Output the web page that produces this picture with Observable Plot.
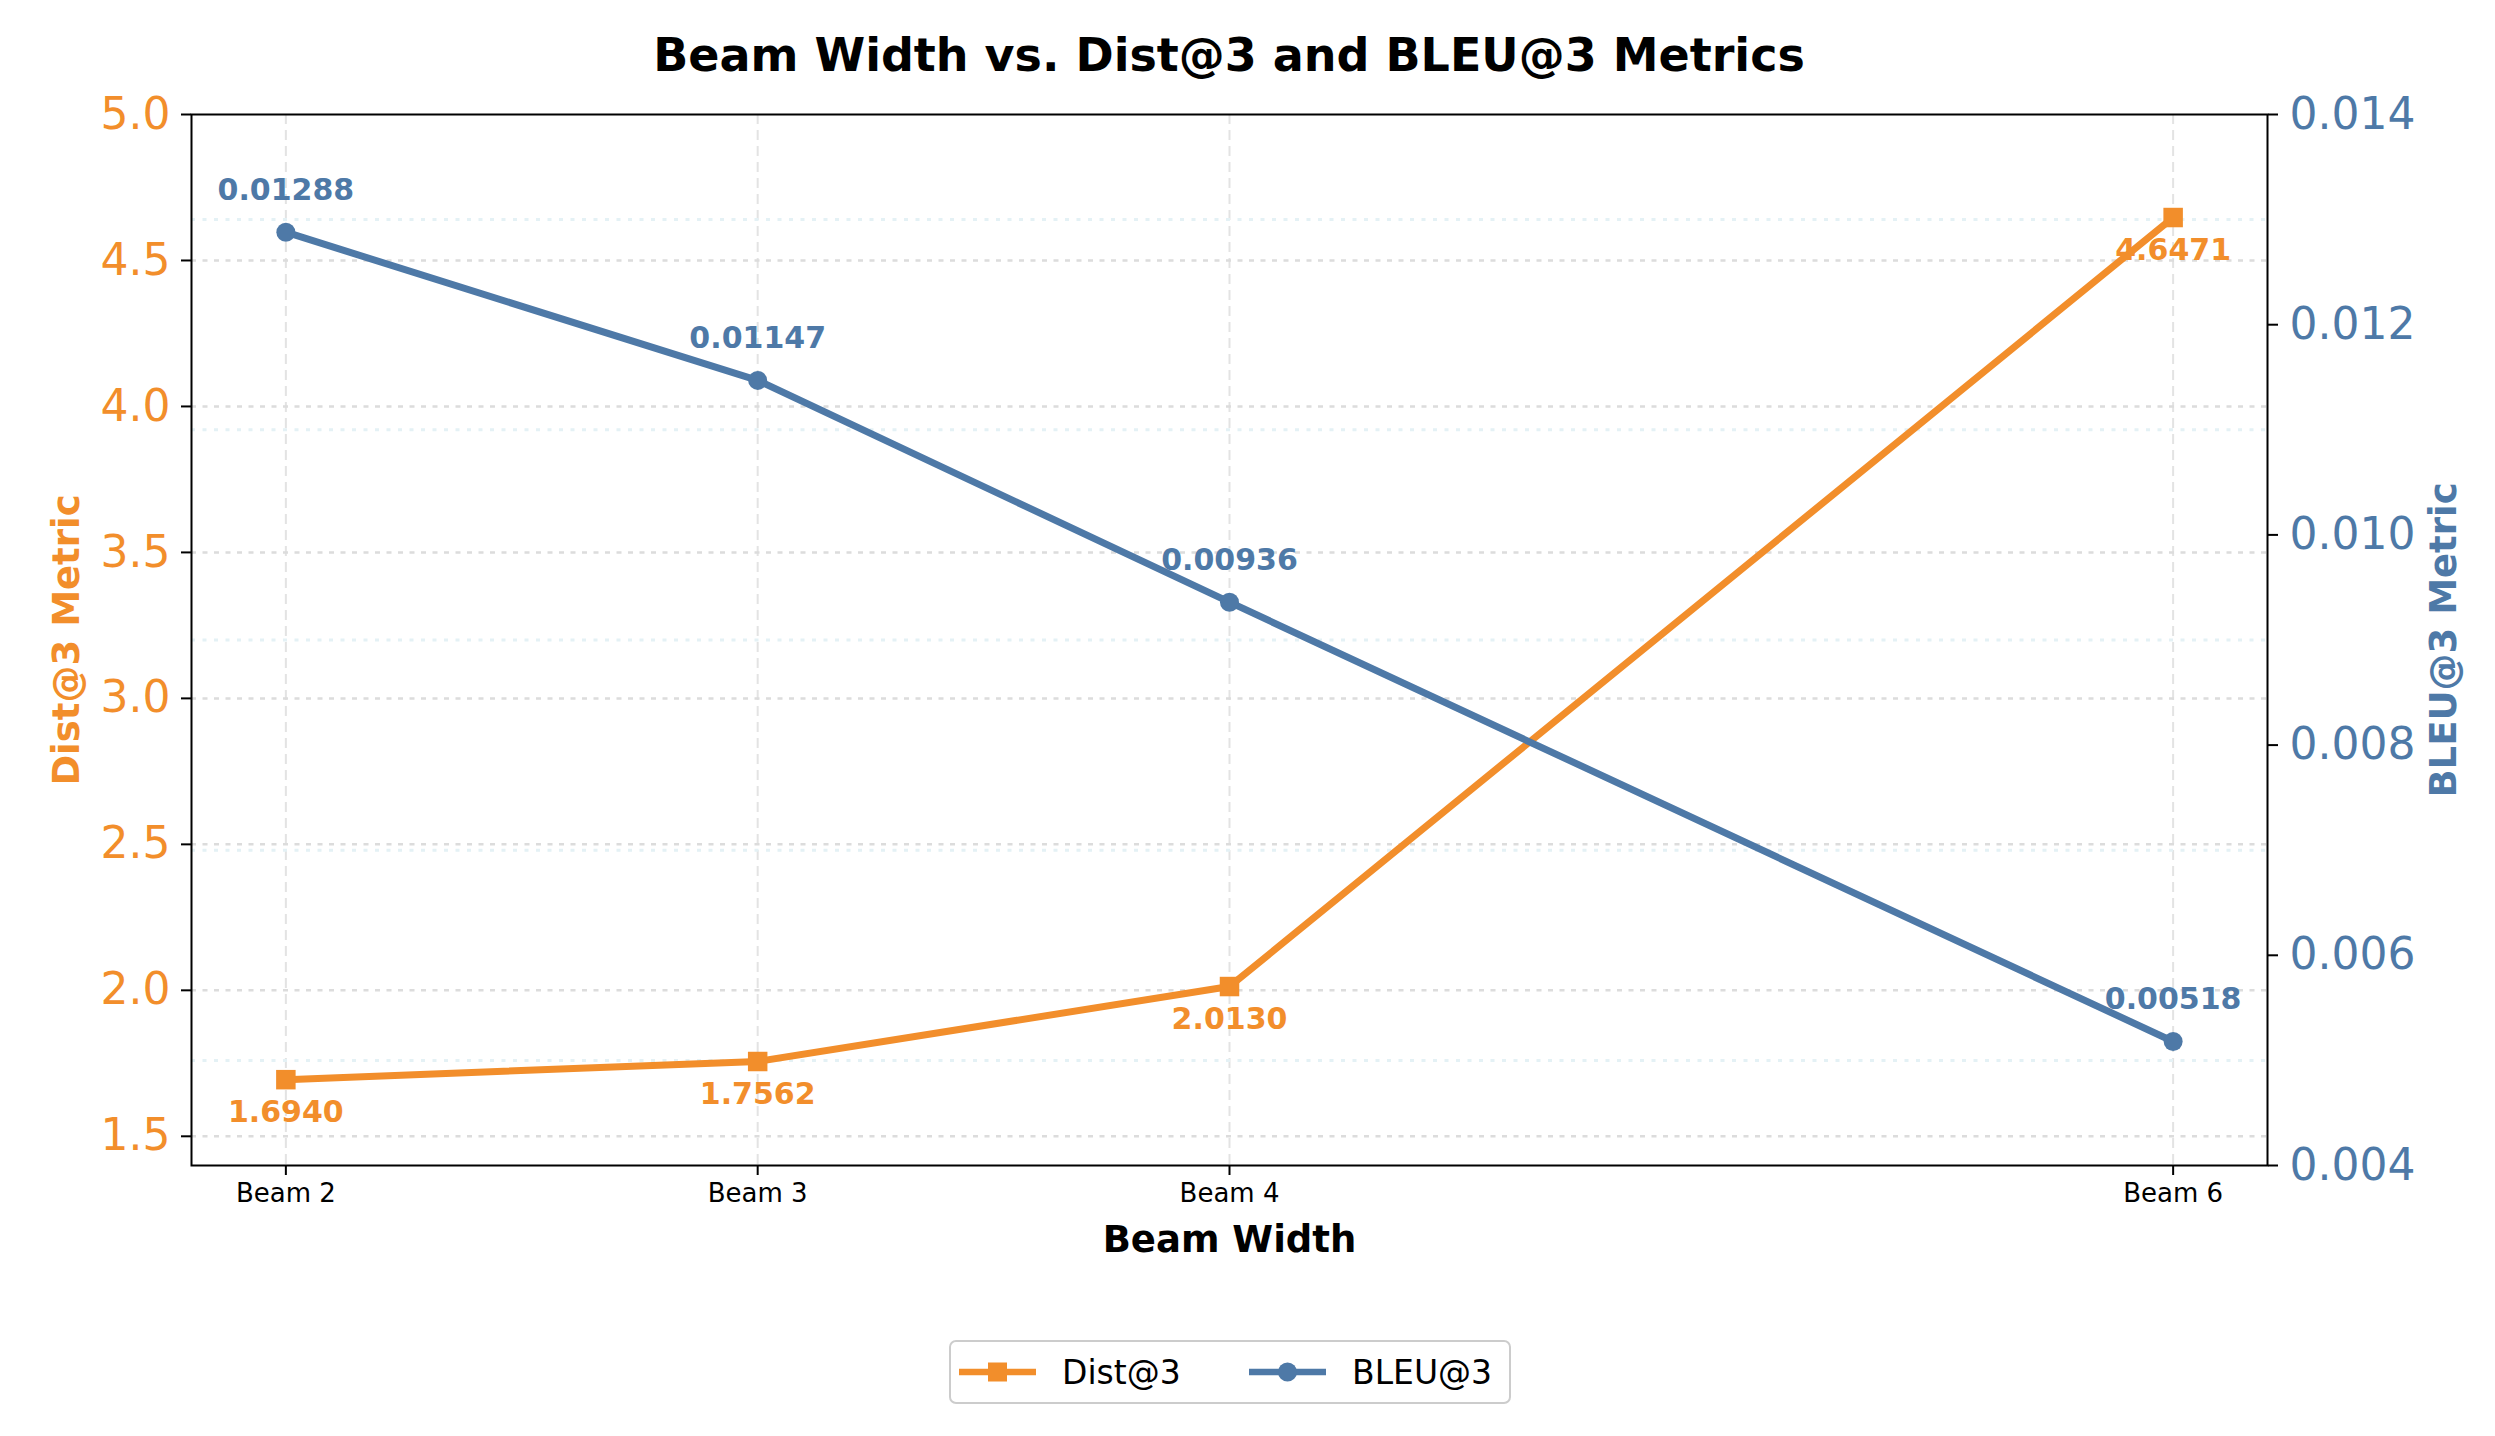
<!DOCTYPE html>
<html>
<head>
<meta charset="utf-8">
<script src="https://cdn.jsdelivr.net/npm/d3@7"></script>
<script src="https://cdn.jsdelivr.net/npm/@observablehq/plot@0.6"></script>
<style>
  html, body { margin: 0; padding: 0; background: white; font-family: "DejaVu Sans", sans-serif; }
  #wrap { position: relative; width: 2495px; height: 1436px; overflow: hidden; }
  #title { position: absolute; left: 0; top: 30px; width: 2458px; text-align: center; font-size: 46px; font-weight: bold; line-height: 50px; color: black; }
  #chart { position: absolute; left: 0; top: 80px; }
  #legend { position: absolute; left: 949px; top: 1340px; }
</style>
</head>
<body>
<div id="wrap">
  <div id="title">Beam Width vs. Dist@3 and BLEU@3 Metrics</div>
  <div id="chart"></div>
  <div id="legend"></div>
</div>
<script>
// ---- data ----
const beams = [2, 3, 4, 6];
const beamLabels = ["Beam 2", "Beam 3", "Beam 4", "Beam 6"];
const distValues = [1.6940, 1.7562, 2.0130, 4.6471];
const bleuValues = [0.01288, 0.01147, 0.00936, 0.00518];
const leftTicks = [1.5, 2.0, 2.5, 3.0, 3.5, 4.0, 4.5, 5.0];
const leftGrid = [1.5, 2.0, 2.5, 3.0, 3.5, 4.0, 4.5];
const rightTicks = [0.004, 0.006, 0.008, 0.010, 0.012, 0.014];
const rightGrid = [0.005, 0.007, 0.009, 0.011, 0.013];
const seriesNames = ["Dist@3", "BLEU@3"];

const ORANGE = "#F28E2B";
const BLUE = "#4E79A7";
const leftDomain = [1.4, 5.0];
const rightDomain = [0.004, 0.014];
const xDomain = [1.8, 6.2];

// map right-axis values into the left-axis space (twin axis)
const toLeft = v => leftDomain[0] + (v - rightDomain[0]) / (rightDomain[1] - rightDomain[0]) * (leftDomain[1] - leftDomain[0]);
const fromLeft = y => rightDomain[0] + (y - leftDomain[0]) / (leftDomain[1] - leftDomain[0]) * (rightDomain[1] - rightDomain[0]);

const dist = beams.map((b, i) => ({beam: b, value: distValues[i]}));
const bleu = beams.map((b, i) => ({beam: b, value: bleuValues[i], y: toLeft(bleuValues[i])}));

const chart = Plot.plot({
  width: 2495,
  height: 1200,
  marginTop: 34,
  marginBottom: 115,
  marginLeft: 191,
  marginRight: 228,
  x: {domain: xDomain, axis: null},
  y: {domain: leftDomain, axis: null},
  style: {fontFamily: "DejaVu Sans", background: "white", color: "black", overflow: "visible"},
  marks: [
    Plot.ruleX(beams, {stroke: "#e3e3e3", strokeWidth: 2, strokeDasharray: "10,6"}),
    Plot.ruleY(leftGrid, {stroke: "#dcdcdc", strokeWidth: 2.5, strokeDasharray: "5,6.5"}),
    Plot.ruleY(rightGrid.map(toLeft), {stroke: "#e4f1f5", strokeWidth: 3, strokeDasharray: "4,7.5"}),
    Plot.frame({stroke: "black", strokeWidth: 2}),
    Plot.axisX(beams, {anchor: "bottom", tickSize: 10, tickPadding: 8, fontSize: 26, label: null,
      stroke: "black", fill: "black", strokeWidth: 2, tickFormat: d => beamLabels[beams.indexOf(d)]}),
    Plot.axisY(leftTicks, {anchor: "left", tickSize: 10, tickPadding: 11, fontSize: 44, label: null,
      stroke: "black", fill: ORANGE, strokeWidth: 2, tickFormat: d => d.toFixed(1)}),
    Plot.axisY(rightTicks.map(toLeft), {anchor: "right", tickSize: 10, tickPadding: 12, fontSize: 44, label: null,
      stroke: "black", fill: BLUE, strokeWidth: 2, tickFormat: d => fromLeft(d).toFixed(3)}),
    // axis labels
    Plot.text(["Beam Width"], {frameAnchor: "bottom", dy: 75, lineAnchor: "middle", textAnchor: "middle", fontSize: 37, fontWeight: "bold", fill: "black"}),
    Plot.text(["Dist@3 Metric"], {frameAnchor: "left", dx: -124, rotate: -90, textAnchor: "middle", lineAnchor: "middle", fontSize: 37, fontWeight: "bold", fill: ORANGE}),
    Plot.text(["BLEU@3 Metric"], {frameAnchor: "right", dx: 177, rotate: -90, textAnchor: "middle", lineAnchor: "middle", fontSize: 37, fontWeight: "bold", fill: BLUE}),
    // Dist@3 series
    Plot.line(dist, {x: "beam", y: "value", stroke: ORANGE, strokeWidth: 7}),
    Plot.dot(dist, {x: "beam", y: "value", symbol: "square", r: 11, fill: ORANGE}),
    // BLEU@3 series
    Plot.line(bleu, {x: "beam", y: "y", stroke: BLUE, strokeWidth: 7}),
    Plot.dot(bleu, {x: "beam", y: "y", symbol: "circle", r: 9.5, fill: BLUE}),
    // value labels
    Plot.text(dist, {x: "beam", y: "value", text: d => d.value.toFixed(4), dy: 33, fontSize: 30, fontWeight: "bold", fill: ORANGE}),
    Plot.text(bleu, {x: "beam", y: "y", text: d => d.value.toFixed(5), dy: -42, fontSize: 30, fontWeight: "bold", fill: BLUE})
  ]
});
document.getElementById("chart").appendChild(chart);

// legend
const lg = d3.select("#legend").append("svg").attr("width", 562).attr("height", 64)
  .style("font-family", "DejaVu Sans").style("overflow", "visible");
lg.append("rect").attr("x", 1).attr("y", 1).attr("width", 560).attr("height", 62).attr("rx", 6)
  .attr("fill", "white").attr("stroke", "#cccccc").attr("stroke-width", 2);
const items = [
  {name: seriesNames[0], color: ORANGE, x0: 10, sym: "square", tx: 113},
  {name: seriesNames[1], color: BLUE, x0: 300, sym: "circle", tx: 403}
];
items.forEach(it => {
  const cy = 32;
  lg.append("line").attr("x1", it.x0).attr("x2", it.x0 + 77).attr("y1", cy).attr("y2", cy)
    .attr("stroke", it.color).attr("stroke-width", 6.5);
  if (it.sym === "square") {
    lg.append("rect").attr("x", it.x0 + 38.5 - 9.5).attr("y", cy - 9.5).attr("width", 19).attr("height", 19).attr("fill", it.color);
  } else {
    lg.append("circle").attr("cx", it.x0 + 38.5).attr("cy", cy).attr("r", 9.5).attr("fill", it.color);
  }
  lg.append("text").attr("x", it.tx).attr("y", cy).attr("dy", "0.35em").attr("font-size", 33).attr("fill", "black").text(it.name);
});
</script>
</body>
</html>
